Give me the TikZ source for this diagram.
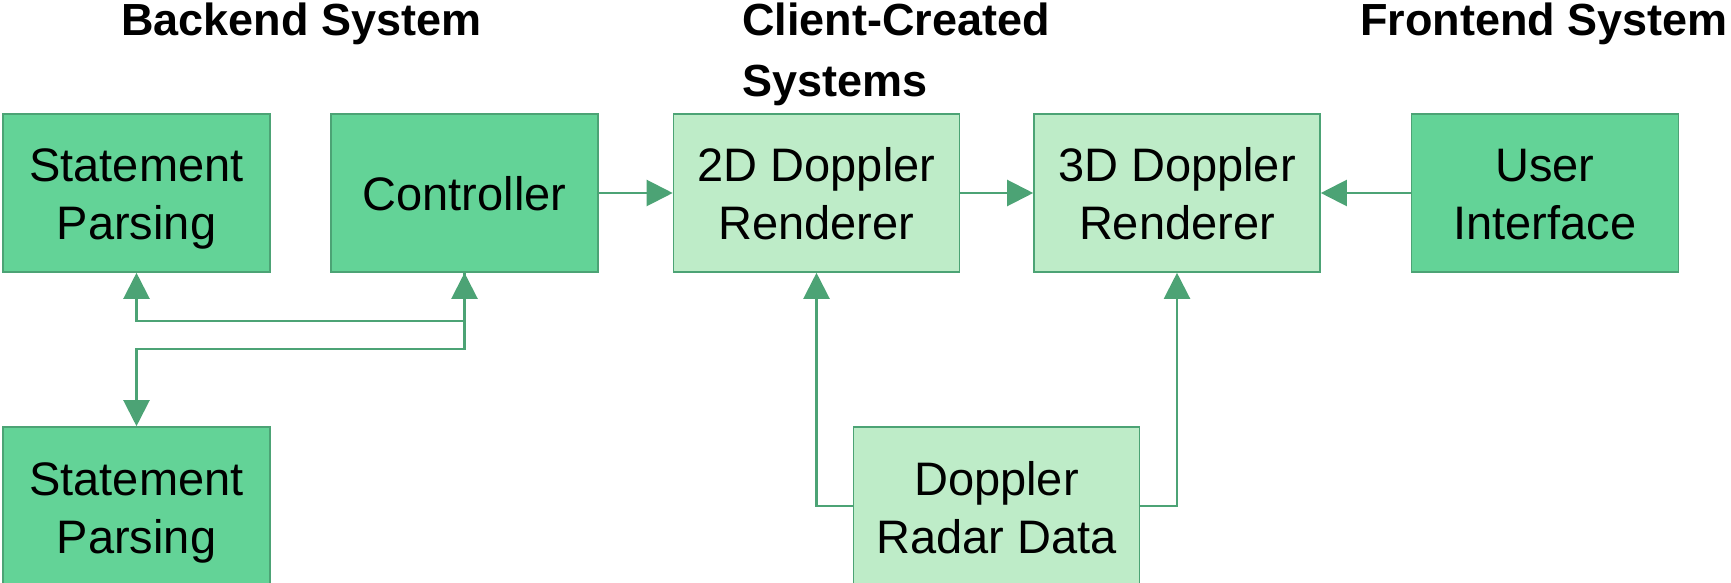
\documentclass[tikz,border=0pt]{standalone}
\usepackage{fontspec}
\setmainfont{Liberation Sans}
\usepackage{xcolor}
\usepackage{tikz}
\usetikzlibrary{arrows.meta}

\definecolor{boxdark}{RGB}{99,211,151}
\definecolor{boxlight}{RGB}{190,236,200}
\definecolor{edgegreen}{RGB}{76,163,117}

\begin{document}
\begin{tikzpicture}[
		x=0.5pt, y=-0.5pt,
		block/.style={rectangle, draw=edgegreen, line width=0.8pt, fill=boxdark, minimum height=79pt, inner sep=0pt, align=center, font=\fontsize{23.5}{29}\selectfont, text height=47pt, text depth=0pt},
		narrow/.style={block, minimum width=133.5pt},
		wide/.style={block, fill=boxlight, minimum width=143pt},
		oneline/.style={text height=18pt},
		heading/.style={anchor=base west, inner sep=0pt, align=left, font=\fontsize{22.5}{30.5}\selectfont\bfseries},
		link/.style={draw=edgegreen, line width=1.1pt, -{Triangle[length=13pt,width=13pt]}}
	]
		\useasboundingbox (0,0) rectangle (1731,583);

		\node[heading](hd-back) at (121,36){Backend System};
		\node[heading](hd-client) at (742,97){Client-Created\\Systems};
		\node[heading](hd-front) at (1360,36){Frontend System};

		\node[narrow](sp-top) at (136.5,193){Statement\\Parsing};
		\node[narrow,oneline](ctrl) at (464.5,193){Controller};
		\node[wide](dop-2d) at (816.5,193){2D Doppler\\Renderer};
		\node[wide](dop-3d) at (1177,193){3D Doppler\\Renderer};
		\node[narrow](ui) at (1545,193){User\\Interface};
		\node[narrow](sp-bot) at (136.5,506){Statement\\Parsing};
		\node[wide](radar) at (996.5,506){Doppler\\Radar Data};

		\coordinate (bus-a) at (300,321);
		\coordinate (bus-b) at (300,349);

		\draw[link, {Triangle[length=13pt,width=13pt]}-{Triangle[length=13pt,width=13pt]}](sp-top) |- (bus-a) -| (ctrl);
		\draw[link](ctrl.south) |- (bus-b) -| (sp-bot);
		\draw[link](ctrl) -- (dop-2d);
		\draw[link](dop-2d) -- (dop-3d);
		\draw[link](ui) -- (dop-3d);
		\draw[link](radar.west) -| (dop-2d);
		\draw[link](radar.east) -| (dop-3d);
	\end{tikzpicture}
\end{document}
